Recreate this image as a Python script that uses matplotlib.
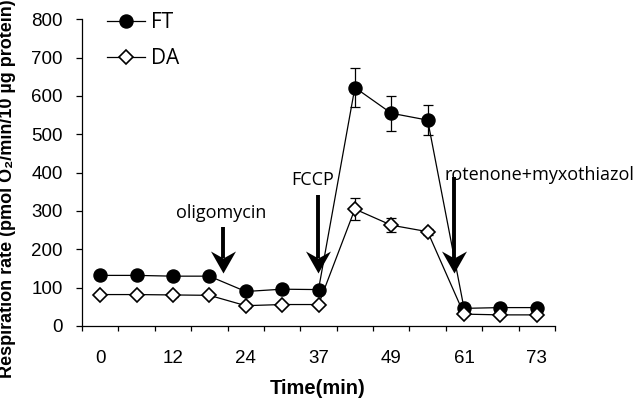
import matplotlib
matplotlib.use("Agg")
import matplotlib.pyplot as plt
from matplotlib.lines import Line2D
from matplotlib.path import Path
import numpy as np

plt.rcParams['font.family'] = ['Liberation Sans', 'DejaVu Sans']

# ---- data ----
tick_labels = ["0", "12", "24", "37", "49", "61", "73"]
ft = [132, 132, 130, 130, 90, 96, 95, 622, 555, 537, 46, 48, 48]
ft_err = [8, 8, 8, 8, 10, 10, 10, 50, 46, 40, 5, 5, 5]
da = [82, 82, 81, 80, 53, 56, 56, 305, 263, 246, 31, 29, 29]
da_err = [5, 5, 5, 5, 5, 5, 5, 29, 18, 8, 3, 3, 3]
series_names = ["FT", "DA"]

W, H = 640, 401
fig = plt.figure(figsize=(W / 100, H / 100), dpi=100)
ax = fig.add_axes([82 / W, 1 - 326 / H, (555 - 82) / W, (326 - 19.3) / H])

x = np.arange(len(ft))
lw = 0.9
ax.errorbar(x, ft, yerr=ft_err, fmt='none', ecolor='black', elinewidth=0.9,
            capsize=3.6, capthick=0.9, zorder=2)
ax.errorbar(x, da, yerr=da_err, fmt='none', ecolor='black', elinewidth=0.9,
            capsize=3.6, capthick=0.9, zorder=2)
ax.plot(x, ft, color='black', lw=lw, marker='o', ms=9.4, mfc='black', mec='black', zorder=3)
ax.plot(x, da, color='black', lw=lw, marker='D', ms=7.0, mfc='white', mec='black', mew=1.2, zorder=4)

ax.set_xlim(-0.5, len(ft) - 0.5)
ax.set_ylim(0, 800)

for s in ['top', 'right']:
    ax.spines[s].set_visible(False)
for s in ['left', 'bottom']:
    ax.spines[s].set_linewidth(0.9)

ax.set_yticks(np.arange(0, 801, 100))
ax.tick_params(axis='y', direction='out', length=4.3, width=0.9, pad=9.5, labelsize=13.5)
ax.set_xticks(x[::2])
ax.set_xticklabels(tick_labels)
ax.tick_params(axis='x', which='major', length=0, pad=17.3, labelsize=13.5)
ax.set_xticks(np.arange(-0.5, len(ft), 1.0), minor=True)
ax.tick_params(axis='x', which='minor', direction='out', length=3.8, width=0.9)

# axis labels
fig.text(318 / W, 1 - 388 / H, "Time(min)", ha='center', va='center',
         fontsize=14.5, fontweight='bold')
fig.text(8 / W, 1 - 189 / H, "Respiration rate (pmol O\u2082/min/10 \u00b5g protein)",
         rotation=90, ha='center', va='center', fontsize=13, fontweight='bold')

# annotations: arrows with a stealth-shaped head (custom marker, tip at origin)
head = Path([(0, 0), (-12.5, 22), (0, 15), (12.5, 22), (0, 0)],
            [Path.MOVETO, Path.LINETO, Path.LINETO, Path.LINETO, Path.CLOSEPOLY])
head_ms = 44 * 0.72  # 22 px half-extent -> markersize in points


def arrow(xc, y_tip, y_top):
    notch = 15 / 0.383
    ax.plot([xc, xc], [y_top, y_tip + notch], color='black', lw=2.8,
            solid_capstyle='butt', zorder=5)
    ax.plot([xc], [y_tip], marker=head, ms=head_ms, color='black', mew=0, zorder=5)


afont = ['Open Sans', 'DejaVu Sans']
arrow(3.38, 138, 258)
arrow(5.99, 138, 341)
arrow(9.72, 138, 388)
ax.text(3.32, 294, "oligomycin", ha='center', va='center', fontsize=13, family=afont)
ax.text(5.85, 380, "FCCP", ha='center', va='center', fontsize=13, family=afont)
ax.text(9.47, 393, "rotenone+myxothiazol", ha='left', va='center', fontsize=13, family=afont)

handles = [Line2D([], [], color='black', lw=lw, marker='o', ms=9.4, mfc='black', mec='black'),
           Line2D([], [], color='black', lw=lw, marker='D', ms=7.0, mfc='white', mec='black', mew=1.2)]
leg = fig.legend(handles, series_names, loc='upper left', bbox_to_anchor=(107 / W, 1 - 12 / H),
                 frameon=False, borderpad=0, borderaxespad=0, handlelength=1.8,
                 handletextpad=0.3, labelspacing=0.72, numpoints=1,
                 prop={'family': afont, 'size': 15})

fig.savefig("out.png", dpi=100)
